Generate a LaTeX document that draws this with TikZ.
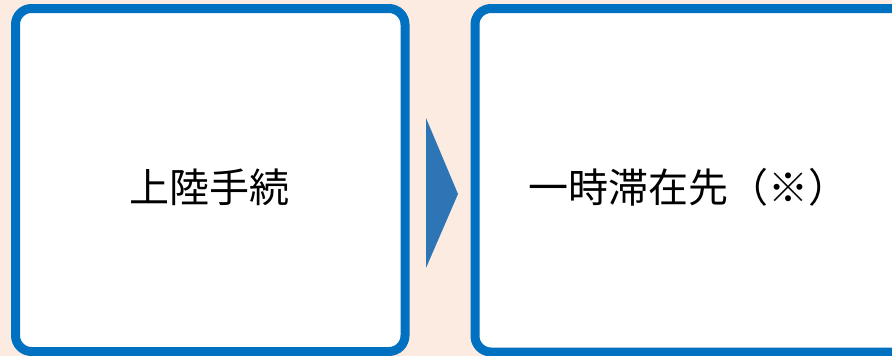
\documentclass[tikz,border=0pt]{standalone}
\usepackage{fontspec}
\newfontfamily\jp{Noto Sans CJK JP}
\definecolor{bgpeach}{HTML}{FBEBE1}
\definecolor{boxblue}{HTML}{0070C0}
\definecolor{arrowblue}{HTML}{2E75B6}
\tikzset{
  panel/.style={draw=boxblue, line width=9pt, fill=white, rounded corners=16pt,
    rectangle, inner sep=0pt},
  label/.style={font=\jp\fontsize{40}{48}\selectfont, text=black, anchor=base, inner sep=0pt}
}
\begin{document}
\begin{tikzpicture}[x=1pt,y=-1pt]
\useasboundingbox (0,0) rectangle (892,356);
\clip (0,0) rectangle (892,356);
\fill[bgpeach] (0,0) rectangle (892,356);
\node[panel, minimum width=389.5pt, minimum height=343pt] (left) at (210.25,180) {};
\node[panel, minimum width=445pt, minimum height=343.5pt] (right) at (697.5,180.25) {};
\coordinate (t1) at (426,118);
\coordinate (t2) at (458,194);
\coordinate (t3) at (426,268);
\fill[arrowblue] (t1) -- (t2) -- (t3) -- cycle;
\node[label] (lt) at (209,202) {上陸手続};
\node[label] (rt) at (688,202) {一時滞在先（※）};
\end{tikzpicture}
\end{document}
